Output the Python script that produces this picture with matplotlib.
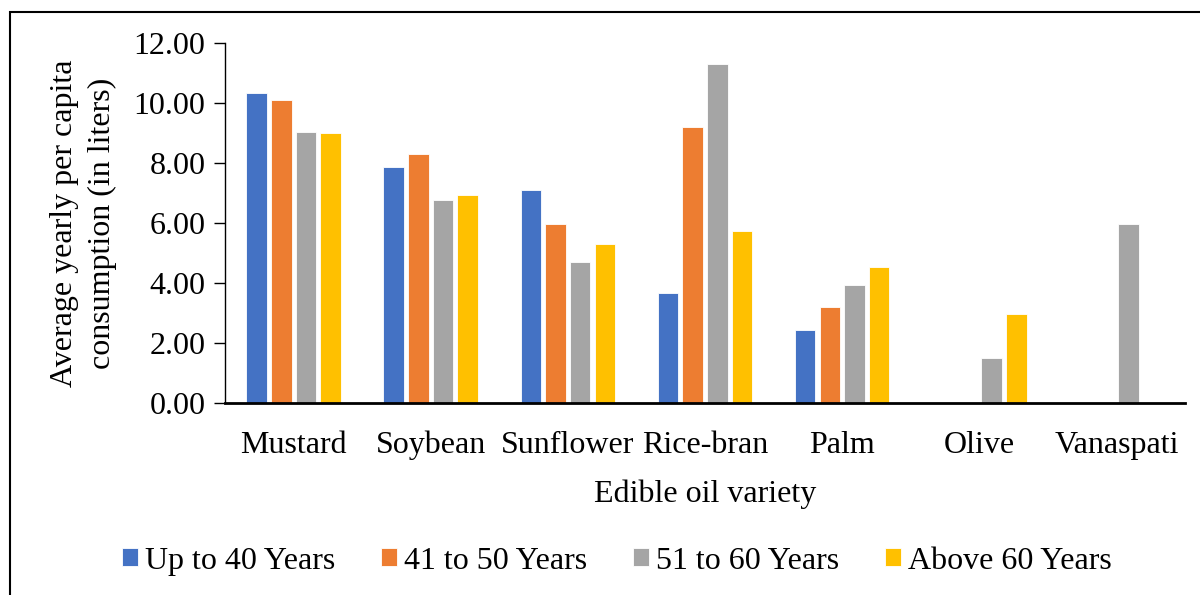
import numpy as np
import matplotlib.pyplot as plt
from matplotlib.patches import Rectangle

plt.rcParams['font.family'] = ['Liberation Serif', 'DejaVu Serif']

# oil varieties and yearly per capita consumption by age group
oils = ['Mustard', 'Soybean', 'Sunflower', 'Rice-bran', 'Palm', 'Olive', 'Vanaspati']
age_groups = ['Up to 40 Years', '41 to 50 Years', '51 to 60 Years', 'Above 60 Years']
upto_40 = [10.36, 7.89, 7.11, 3.66, 2.45, 0, 0]
from_41_50 = [10.11, 8.32, 5.96, 9.20, 3.22, 0, 0]
from_51_60 = [9.03, 6.78, 4.70, 11.31, 3.94, 1.49, 5.99]
above_60 = [9.02, 6.93, 5.30, 5.73, 4.55, 2.98, 0]

colors = ['#4472C4', '#ED7D31', '#A5A5A5', '#FFC000']
series = [upto_40, from_41_50, from_51_60, above_60]

fig = plt.figure(figsize=(12, 5.95), dpi=100)
ax = fig.add_axes([0.1875, 0.3227, 0.8, 0.6042])

x = np.arange(len(oils))
step = 0.18
width = 0.15
for i, (vals, col, lab) in enumerate(zip(series, colors, age_groups)):
    ax.bar(x + (i - 1.5) * step, vals, width, color=col, label=lab,
           edgecolor='white', linewidth=0.6)

ax.set_xlim(-0.5, len(oils) - 0.5)
ax.set_ylim(0, 12)
ax.set_yticks(np.arange(0, 12.1, 2))
ax.set_yticklabels([f'{v:.2f}' for v in np.arange(0, 12.1, 2)], fontsize=23)
ax.set_xticks(x)
ax.set_xticklabels(oils, fontsize=23)
ax.tick_params(axis='x', length=0, pad=20)
ax.tick_params(axis='y', length=8, width=1, pad=6)

for s in ['top', 'right']:
    ax.spines[s].set_visible(False)
ax.spines['left'].set_linewidth(1)
ax.spines['bottom'].set_linewidth(2)

ax.set_xlabel('Edible oil variety', fontsize=23, labelpad=14)
ax.set_ylabel('Average yearly per capita\nconsumption (in liters)', fontsize=23,
              labelpad=12, linespacing=1.4)

fig.legend(loc='center', bbox_to_anchor=(0.514, 0.057), ncol=4, frameon=False,
           fontsize=23, handlelength=0.5, handleheight=0.5, handletextpad=0.22,
           columnspacing=1.44)

# outer frame like the original chart border
fig.patches.append(Rectangle((10 / 1200, -0.1), 1.2, 0.98 + 0.1,
                             transform=fig.transFigure, fill=False,
                             edgecolor='black', linewidth=1.5))

fig.savefig('out.png', dpi=100)
